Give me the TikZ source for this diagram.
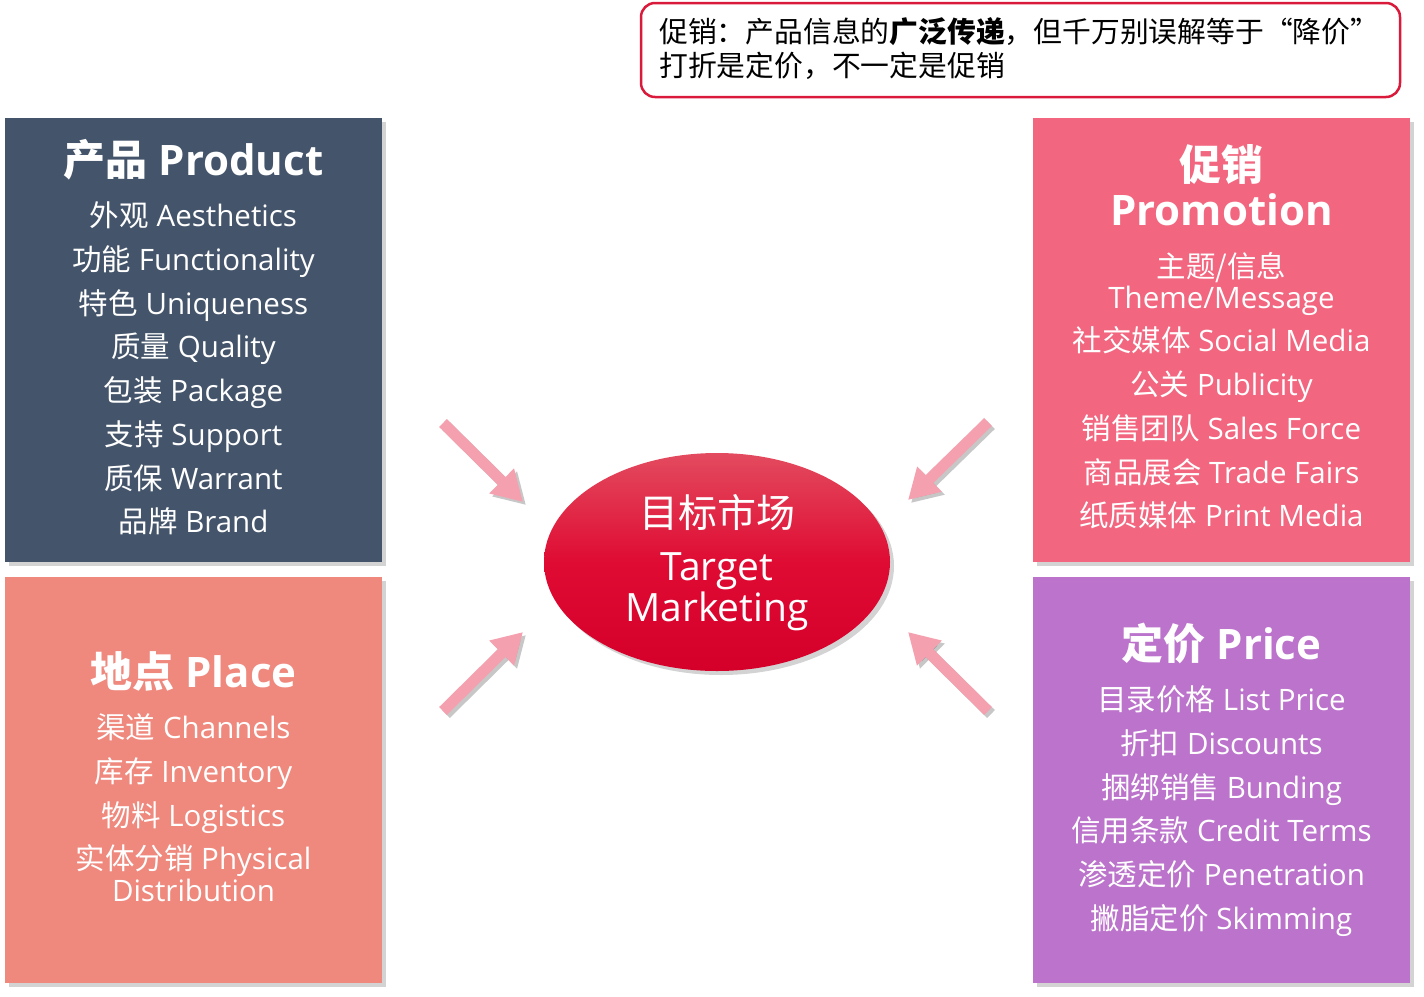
\documentclass[tikz,border=0pt]{standalone}
\usepackage{fontspec}
\setmainfont{Open Sans}
\newfontfamily\zhfont{Noto Sans CJK SC}
\newcommand\zh[1]{{\zhfont #1}}
\usetikzlibrary{shapes.geometric,shadows,arrows.meta}
\definecolor{prodc}{HTML}{44546A}
\definecolor{placec}{HTML}{EF887D}
\definecolor{promoc}{HTML}{F2667F}
\definecolor{pricec}{HTML}{BB73CB}
\definecolor{notered}{HTML}{D91A3B}
\definecolor{elltop}{HTML}{E34B5F}
\definecolor{ellmid}{HTML}{DF0B33}
\definecolor{ellbot}{HTML}{D4002A}
\definecolor{arrowc}{HTML}{F4A0AF}
\begin{document}
\begin{tikzpicture}[x=1pt,y=-1pt,
  pbox/.style={draw=none, minimum width=377pt, inner sep=0pt,
    drop shadow={shadow xshift=4pt, shadow yshift=-4pt, opacity=0.35}},
  item/.style={anchor=base, text=white, font=\fontsize{29.5}{33}\selectfont, inner sep=0pt},
  ttl/.style={anchor=base, text=white, font=\fontsize{42}{46}\selectfont\bfseries, inner sep=0pt},
  notetxt/.style={anchor=base west, text=black, font=\fontsize{28.8}{32}\selectfont\zhfont, inner sep=0pt},
  elltxt/.style={anchor=base, text=white, font=\fontsize{39}{42}\selectfont, inner sep=0pt},
  bigarrow/.style={draw=arrowc, line width=11pt, line cap=butt, -{Triangle[length=30pt,width=33pt]}},
  arrowshadow/.style={draw=black, opacity=0.22, line width=11pt, line cap=butt, -{Triangle[length=30pt,width=33pt]}}
]
\useasboundingbox (0,0) rectangle (1424,996);

% note callout
\node[draw=notered, line width=2.5pt, fill=white, rounded corners=14pt,
      minimum width=759pt, minimum height=94pt, inner sep=0pt] (note) at (1020.5,50) {};
\node[notetxt] (n1) at (659,42) {促销：产品信息的\textbf{广泛传递}，但千万别误解等于“降价”};
\node[notetxt] (n2) at (659,76) {打折是定价，不一定是促销};

% Product
\node[pbox, fill=prodc, minimum height=444pt] (prod) at (193.5,340) {};
\node[ttl] (prodt) at (193.5,175) {\zh{产品} Product};
\node[item] (p1) at (193.5,226) {\zh{外观} Aesthetics};
\node[item] (p2) at (193.5,270) {\zh{功能} Functionality};
\node[item] (p3) at (193.5,314) {\zh{特色} Uniqueness};
\node[item] (p4) at (193.5,357) {\zh{质量} Quality};
\node[item] (p5) at (193.5,401) {\zh{包装} Package};
\node[item] (p6) at (193.5,445) {\zh{支持} Support};
\node[item] (p7) at (193.5,489) {\zh{质保} Warrant};
\node[item] (p8) at (193.5,532) {\zh{品牌} Brand};

% Place
\node[pbox, fill=placec, minimum height=406pt] (place) at (193.5,780) {};
\node[ttl] (placet) at (193.5,687) {\zh{地点} Place};
\node[item] (l1) at (193.5,738) {\zh{渠道} Channels};
\node[item] (l2) at (193.5,782) {\zh{库存} Inventory};
\node[item] (l3) at (193.5,826) {\zh{物料} Logistics};
\node[item] (l4) at (193.5,869) {\zh{实体分销} Physical};
\node[item] (l5) at (193.5,901) {Distribution};

% Promotion
\node[pbox, fill=promoc, minimum height=444pt] (promo) at (1221.5,340) {};
\node[ttl] (promot1) at (1221.5,180) {\zh{促销}};
\node[ttl] (promot2) at (1221.5,225) {Promotion};
\node[item] (m1) at (1221.5,277) {\zh{主题/信息}};
\node[item] (m2) at (1221.5,308) {Theme/Message};
\node[item] (m3) at (1221.5,351) {\zh{社交媒体} Social Media};
\node[item] (m4) at (1221.5,395) {\zh{公关} Publicity};
\node[item] (m5) at (1221.5,439) {\zh{销售团队} Sales Force};
\node[item] (m6) at (1221.5,483) {\zh{商品展会} Trade Fairs};
\node[item] (m7) at (1221.5,526) {\zh{纸质媒体} Print Media};

% Price
\node[pbox, fill=pricec, minimum height=406pt] (price) at (1221.5,780) {};
\node[ttl] (pricet) at (1221.5,659) {\zh{定价} Price};
\node[item] (r1) at (1221.5,710) {\zh{目录价格} List Price};
\node[item] (r2) at (1221.5,754) {\zh{折扣} Discounts};
\node[item] (r3) at (1221.5,798) {\zh{捆绑销售} Bunding};
\node[item] (r4) at (1221.5,841) {\zh{信用条款} Credit Terms};
\node[item] (r5) at (1221.5,885) {\zh{渗透定价} Penetration};
\node[item] (r6) at (1221.5,929) {\zh{撇脂定价} Skimming};

% centre ellipse
\node[ellipse, minimum width=346pt, minimum height=218pt, inner sep=0pt,
      top color=elltop, bottom color=ellbot, middle color=ellmid,
      drop shadow={shadow xshift=4pt, shadow yshift=-4pt, opacity=0.35}] (tm) at (717,562) {};
\node[elltxt] (tm1) at (717,527) {\zh{目标市场}};
\node[elltxt] (tm2) at (717,580) {Target};
\node[elltxt] (tm3) at (717,621) {Marketing};

% arrows
\coordinate (a1s) at (443,423); \coordinate (a1e) at (523,502);
\coordinate (a2s) at (988,422); \coordinate (a2e) at (908,500);
\coordinate (a3s) at (443,711); \coordinate (a3e) at (523,632);
\coordinate (a4s) at (988,711); \coordinate (a4e) at (908,632);
\begin{scope}[transform canvas={shift={(3pt,-3pt)}}]
  \draw[arrowshadow] (a1s) -- (a1e);
  \draw[arrowshadow] (a2s) -- (a2e);
  \draw[arrowshadow] (a3s) -- (a3e);
  \draw[arrowshadow] (a4s) -- (a4e);
\end{scope}
\draw[bigarrow] (a1s) -- (a1e);
\draw[bigarrow] (a2s) -- (a2e);
\draw[bigarrow] (a3s) -- (a3e);
\draw[bigarrow] (a4s) -- (a4e);
\end{tikzpicture}
\end{document}
